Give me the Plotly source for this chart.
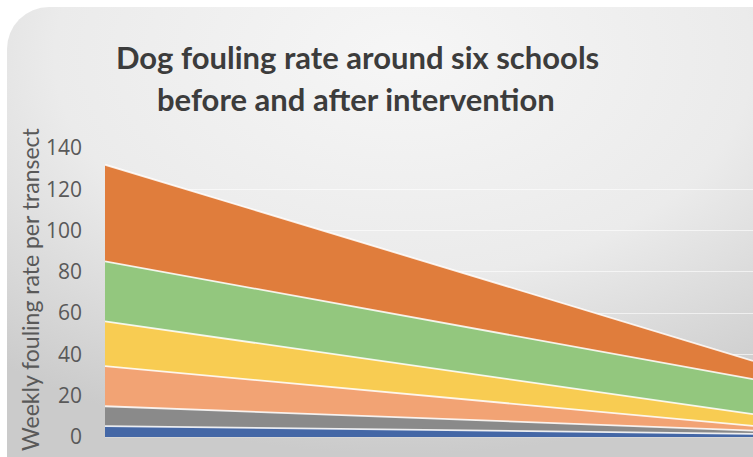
import base64
import plotly.graph_objects as go

# ---- data ----
periods = ["Before", "After"]
series_names = ["School 1", "School 2", "School 3", "School 4", "School 5", "School 6"]
blue_vals = [5.3, 1.5]
gray_vals = [9.6, 1.6]
salmon_vals = [19.4, 2.3]
yellow_vals = [21.7, 5.7]
green_vals = [29.1, 16.9]
orange_vals = [46.8, 8.9]
y_ticks = [0, 20, 40, 60, 80, 100, 120, 140]

colors = ["#4467A6", "#8A8A8A", "#F2A374", "#F8CC52", "#93C77E", "#E07D3C"]
all_vals = [blue_vals, gray_vals, salmon_vals, yellow_vals, green_vals, orange_vals]

W, H = 753, 457
ML, MR, MT, MB = 105, 0, 148, 20
PW, PH = W - ML - MR, H - MT - MB


def px_x(x):
    return (x - ML) / PW


def px_y(y):
    return (H - MB - y) / PH


fig = go.Figure()
for name, vals, col in zip(series_names, all_vals, colors):
    fig.add_trace(go.Scatter(
        x=periods, y=vals, name=name, mode="lines",
        stackgroup="one", fillcolor=col,
        line=dict(color="rgba(255,255,255,0.85)", width=1.8),
        hoverinfo="x+y+name",
    ))

svg = f'''<svg xmlns="http://www.w3.org/2000/svg" width="{W}" height="{H}">
<defs>
<radialGradient id="g" cx="0.5" cy="0.1" r="0.8" gradientUnits="objectBoundingBox">
<stop offset="0" stop-color="#f6f6f6"/>
<stop offset="0.55" stop-color="#ebebeb"/>
<stop offset="1" stop-color="#cbcbcb"/>
</radialGradient>
</defs>
<rect x="7" y="7" width="{W + 40}" height="{H + 40}" rx="42" ry="42" fill="url(#g)"/>
</svg>'''
src = "data:image/svg+xml;base64," + base64.b64encode(svg.encode()).decode()

fig.add_layout_image(dict(
    source=src, xref="paper", yref="paper",
    x=px_x(0), y=px_y(0), sizex=W / PW, sizey=H / PH,
    xanchor="left", yanchor="top", sizing="stretch", layer="below",
))

title_font = dict(family="Lato", size=31, color="#3c3c3c", weight="bold")
fig.add_annotation(text="<b>Dog fouling rate around six schools</b>", xref="paper", yref="paper",
                   x=px_x(357), y=px_y(57), xanchor="center", yanchor="middle",
                   showarrow=False, font=title_font)
fig.add_annotation(text="<b>before and after intervention</b>", xref="paper", yref="paper",
                   x=px_x(356), y=px_y(99), xanchor="center", yanchor="middle",
                   showarrow=False, font=title_font)
fig.add_annotation(text="Weekly fouling rate per transect", xref="paper", yref="paper",
                   x=px_x(30), y=px_y(289), xanchor="center", yanchor="middle",
                   textangle=-90, showarrow=False,
                   font=dict(family="Lato", size=23, color="#595959"))

fig.update_layout(
    width=W, height=H,
    margin=dict(l=ML, r=MR, t=MT, b=MB),
    paper_bgcolor="white", plot_bgcolor="rgba(0,0,0,0)",
    showlegend=False,
    xaxis=dict(showticklabels=False, showgrid=False, zeroline=False,
               showline=True, linecolor="#d6d6d6", linewidth=1,
               range=[0, 1], ticks=""),
    yaxis=dict(range=[0, 140], tickvals=y_ticks, showgrid=True,
               gridcolor="rgba(255,255,255,0.6)", gridwidth=1, zeroline=False,
               tickfont=dict(family="Open Sans", size=21, color="#595959"),
               ticks="", ticklabelstandoff=22),
)

fig.write_html("out.html")
